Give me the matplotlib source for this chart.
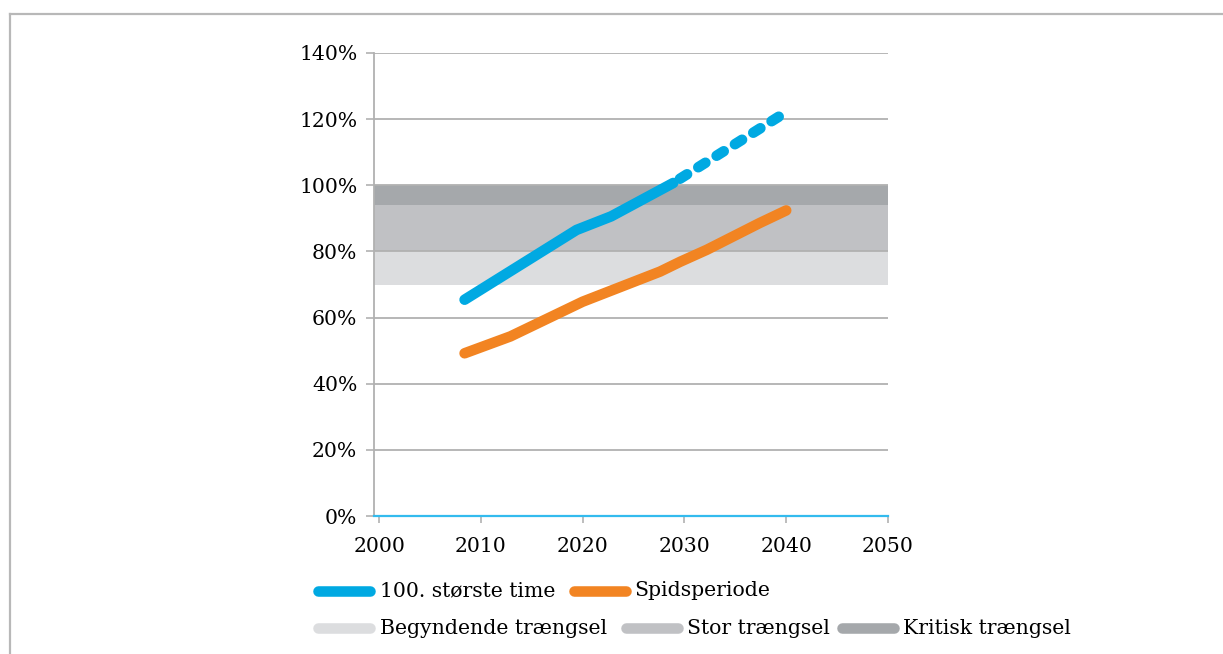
import matplotlib
matplotlib.use("Agg")
import matplotlib.pyplot as plt
from matplotlib.lines import Line2D
import numpy as np

# congestion level per year (share of capacity)
years_top100 = [2008.4, 2019.4, 2022.8, 2028.9]
top100 = [65.4, 86.5, 90.6, 100.7]
years_top100_fc = [2028.9, 2039.4]
top100_fc = [100.7, 121.0]

years_peak = [2008.4, 2012.9, 2020.0, 2027.6, 2029.6, 2032.2, 2037.4, 2040.0]
peak = [49.2, 54.3, 64.8, 73.9, 76.9, 80.5, 88.6, 92.4]

band_edges = [70, 80, 94, 100]
band_labels = ["Begyndende trængsel", "Stor trængsel", "Kritisk trængsel"]
band_colors = ["#dcdddf", "#c0c1c4", "#a5a8ab"]

series_labels = ["100. største time", "Spidsperiode"]
blue = "#00a9e2"
orange = "#f28422"
grid_col = "#b1b1b1"

x_ticks = [2000, 2010, 2020, 2030, 2040, 2050]
y_ticks = [0, 20, 40, 60, 80, 100, 120, 140]

plt.rcParams["font.family"] = ["DejaVu Serif"]
fs = 14.7

W, H = 1223, 654
fig = plt.figure(figsize=(W / 100, H / 100), dpi=100)
ax = fig.add_axes([374 / W, 1 - 516 / H, (888 - 374) / W, (516 - 53) / H])

# congestion bands
for lo, hi, c in zip(band_edges[:-1], band_edges[1:], band_colors):
    ax.axhspan(lo, hi, color=c, lw=0, zorder=0)

for y in y_ticks[1:]:
    ax.axhline(y, color=grid_col, lw=1.3, zorder=1)

lw = 7.6
ax.plot(years_top100, top100, color=blue, lw=lw, solid_capstyle="round",
        solid_joinstyle="round", zorder=3)
ax.plot(years_top100_fc, top100_fc, color=blue, lw=lw, dash_capstyle="round",
        linestyle=(1.3, (0.8, 1.25)), zorder=3)
ax.plot(years_peak, peak, color=orange, lw=lw, solid_capstyle="round",
        solid_joinstyle="round", zorder=3)

ax.set_xlim(1999.5, 2050)
ax.set_ylim(0, 140)
ax.set_xticks(x_ticks)
ax.set_xticklabels([str(x) for x in x_ticks], fontsize=fs)
ax.set_yticks(y_ticks)
ax.set_yticklabels([f"{y}%" for y in y_ticks], fontsize=fs)
ax.tick_params(axis="y", length=6, width=1.2, color=grid_col, pad=6)
ax.tick_params(axis="x", length=5, width=1.2, color=grid_col, pad=10)
ax.get_xticklines()[-2].set_color("#33bbee")

for s in ["top", "right"]:
    ax.spines[s].set_visible(False)
ax.spines["left"].set_color(grid_col)
ax.spines["left"].set_linewidth(1.3)
ax.spines["bottom"].set_color("#33bbee")
ax.spines["bottom"].set_linewidth(1.6)
ax.spines["bottom"].set_zorder(4)

# legend, drawn by hand in figure pixels
def handle(x0, y, color):
    fig.add_artist(Line2D([x0 / W, (x0 + 52) / W], [1 - y / H, 1 - y / H],
                          color=color, lw=lw, solid_capstyle="round",
                          transform=fig.transFigure))

row1 = [(318, 380, blue, series_labels[0]), (574, 634, orange, series_labels[1])]
row2 = [(318, 380, band_colors[0], band_labels[0]),
        (626, 687, band_colors[1], band_labels[1]),
        (842, 903, band_colors[2], band_labels[2])]
for y, row in [(591, row1), (628, row2)]:
    for hx, tx, col, lab in row:
        handle(hx, y, col)
        fig.text(tx / W, 1 - y / H, lab, fontsize=fs, va="center", ha="left")

# outer frame (top and left edges)
fig.add_artist(Line2D([10.5 / W, 1], [1 - 14 / H, 1 - 14 / H], color="#b8b8b8",
                      lw=1.6, transform=fig.transFigure))
fig.add_artist(Line2D([10.5 / W, 10.5 / W], [0, 1 - 14 / H], color="#b8b8b8",
                      lw=1.6, transform=fig.transFigure))

fig.savefig("out.png", dpi=100)
